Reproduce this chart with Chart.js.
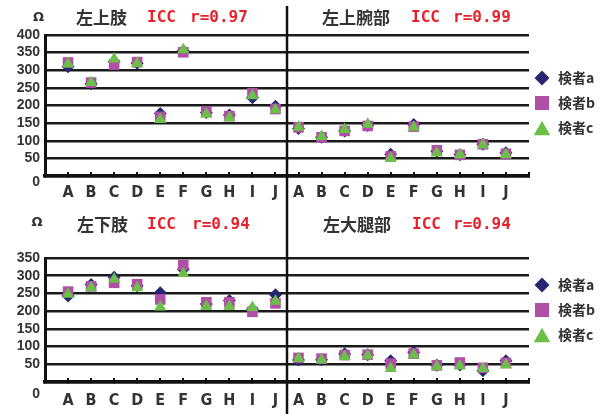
<!DOCTYPE html>
<html>
<head>
<meta charset="utf-8">
<script src="https://cdn.jsdelivr.net/npm/chart.js@4/dist/chart.umd.min.js"></script>
<style>
  html, body { margin: 0; padding: 0; background: #fff; }
  #wrap { position: relative; width: 608px; height: 414px; overflow: hidden; }
  canvas { position: absolute; left: 0; }
  #upper { top: 0; }
  #lower { top: 207px; }
</style>
</head>
<body>
<div id="wrap">
  <canvas id="upper" width="608" height="207"></canvas>
  <canvas id="lower" width="608" height="207"></canvas>
</div>
<script>
// Measurement points and examiners
const categories = ['A', 'B', 'C', 'D', 'E', 'F', 'G', 'H', 'I', 'J'];
const examiners = ['検者a', '検者b', '検者c'];
const examinerColors = ['#262671', '#b04ea8', '#6cc04a'];
const examinerShapes = ['rectRot', 'rect', 'triangle'];

// 左上肢 (Ω)
const upperLimbA = [310, 262, 324, 320, 177, 355, 180, 173, 222, 198];
const upperLimbB = [322, 265, 316, 323, 168, 351, 183, 170, 235, 190];
const upperLimbC = [318, 265, 332, 319, 160, 358, 175, 165, 228, 188];

// 左上腕部 (Ω)
const upperArmA = [135, 110, 128, 143, 62, 146, 70, 60, 90, 66];
const upperArmB = [138, 110, 128, 142, 56, 140, 73, 60, 90, 63];
const upperArmC = [138, 112, 132, 147, 50, 138, 65, 60, 88, 61];

// 左下肢 (Ω)
const lowerLimbA = [243, 275, 296, 272, 252, 318, 220, 230, 205, 246];
const lowerLimbB = [255, 270, 280, 276, 233, 330, 225, 225, 198, 222];
const lowerLimbC = [248, 266, 290, 266, 212, 306, 213, 213, 210, 228];

// 左大腿部 (Ω)
const thighA = [62, 63, 80, 77, 60, 84, 47, 48, 32, 60];
const thighB = [68, 66, 76, 77, 52, 80, 47, 55, 40, 54];
const thighC = [66, 62, 72, 74, 38, 76, 43, 45, 38, 48];

// Panel headings and ICC values
const panelNames = ['左上肢', '左上腕部', '左下肢', '左大腿部'];
const iccValues = ['0.97', '0.99', '0.94', '0.94'];

// Y axis tick settings per row
const upperYMax = 400;
const lowerYMax = 350;
const yStep = 50;
const unitLabel = 'Ω';

// Two panels share one x axis per row: a blank slot at each end,
// then A..J of the left panel followed by A..J of the right panel.
const rowLabels = [''].concat(categories, categories, ['']);
function rowData(left, right) {
  return [null].concat(left, right, [null]);
}

const plotRadius = [6.5, 7.5, 7];
const legendRadius = [7.5, 9.9, 9.6];

const panelDecor = {
  id: 'panelDecor',
  afterDraw(chart, args, opts) {
    const ctx = chart.ctx;
    const xs = chart.scales.x;
    ctx.save();

    // divider between the left and right panel
    const dx = xs.getPixelForValue(10.5);
    ctx.strokeStyle = '#111';
    ctx.lineWidth = 2.5;
    ctx.beginPath();
    ctx.moveTo(dx, opts.dividerTop);
    ctx.lineTo(dx, chart.height);
    ctx.stroke();

    // unit above the y axis
    ctx.fillStyle = '#333';
    ctx.textAlign = 'center';
    ctx.textBaseline = 'middle';
    ctx.font = 'bold 13px "DejaVu Sans"';
    ctx.fillText(unitLabel, opts.unitX, opts.unitY);

    // panel headings
    ctx.textAlign = 'left';
    opts.headings.forEach(h => {
      ctx.font = 'bold 17px "Noto Sans CJK JP"';
      ctx.fillStyle = '#333';
      ctx.fillText(h.name, h.x, opts.titleY);
      ctx.font = 'bold 16px "DejaVu Sans Mono"';
      ctx.fillStyle = '#e8202a';
      ctx.fillText('ICC', h.iccX, opts.titleY);
      ctx.fillText('r=' + h.r, h.rX, opts.titleY);
    });

    // legend at the right
    chart.data.datasets.forEach((ds, i) => {
      const ly = opts.legendY + i * opts.legendGap;
      ctx.fillStyle = ds.backgroundColor;
      const r = legendRadius[i];
      const py = ds.pointStyle === 'triangle' ? ly + r / 4 : ly;
      Chart.helpers.drawPoint(ctx, { pointStyle: ds.pointStyle, radius: r, borderWidth: 0, rotation: 0 }, opts.legendX, py);
      ctx.fillStyle = '#333';
      ctx.font = 'bold 14px "Noto Sans CJK JP"';
      ctx.textBaseline = 'middle';
      ctx.fillText(ds.label, opts.legendTextX, ly);
    });
    ctx.restore();
  }
};

function makeRow(canvasId, series, yMax, layout) {
  const datasets = series.map((data, i) => ({
    label: examiners[i],
    data: data,
    showLine: false,
    pointStyle: examinerShapes[i],
    pointRadius: plotRadius[i],
    pointHoverRadius: plotRadius[i],
    pointBorderWidth: 0,
    backgroundColor: examinerColors[i],
    borderColor: examinerColors[i],
    order: 2 - i,
    clip: false
  }));

  return new Chart(document.getElementById(canvasId), {
    type: 'line',
    data: { labels: rowLabels, datasets: datasets },
    options: {
      responsive: false,
      animation: false,
      events: [],
      layout: { padding: { top: layout.top, left: 0, right: 79, bottom: 0 } },
      plugins: {
        legend: { display: false },
        tooltip: { enabled: false },
        panelDecor: layout.decor
      },
      scales: {
        x: {
          type: 'category',
          offset: false,
          afterFit(s) { s.height = layout.xHeight; },
          grid: {
            display: true,
            drawOnChartArea: false,
            drawTicks: true,
            tickLength: -4,
            color: '#111',
            lineWidth: 2
          },
          border: { display: true, color: '#111', width: 3.5 },
          ticks: {
            autoSkip: false,
            maxRotation: 0,
            padding: layout.xPad,
            color: '#333',
            font: { family: "'Liberation Sans Narrow', 'DejaVu Sans Condensed', 'Liberation Sans'", weight: 'bold', size: 16 }
          }
        },
        y: {
          min: 0,
          max: yMax,
          afterFit(s) { s.width = 45; },
          grid: { color: '#1a1a1a', lineWidth: 2.5, drawTicks: false },
          border: { display: true, color: '#111', width: 3 },
          ticks: {
            stepSize: yStep,
            autoSkip: false,
            padding: 5,
            color: '#333',
            font: { family: "'Liberation Sans', Arial", weight: 'bold', size: 14, lineHeight: layout.zeroShift },
            callback: v => (v === 0 ? ['', '0'] : String(v))
          }
        }
      }
    },
    plugins: [panelDecor]
  });
}

makeRow('upper',
  [rowData(upperLimbA, upperArmA), rowData(upperLimbB, upperArmB), rowData(upperLimbC, upperArmC)],
  upperYMax,
  {
    top: 35, xHeight: 31, xPad: 11, zeroShift: '12px',
    decor: {
      dividerTop: 6, unitX: 38.5, unitY: 18, titleY: 18,
      headings: [
        { name: panelNames[0], x: 76, iccX: 147, rX: 190, r: iccValues[0] },
        { name: panelNames[1], x: 322, iccX: 411, rX: 453, r: iccValues[1] }
      ],
      legendX: 542, legendTextX: 558, legendY: 78, legendGap: 25
    }
  });

makeRow('lower',
  [rowData(lowerLimbA, thighA), rowData(lowerLimbB, thighB), rowData(lowerLimbC, thighC)],
  lowerYMax,
  {
    top: 51, xHeight: 32, xPad: 13, zeroShift: '24px',
    decor: {
      dividerTop: 0, unitX: 37, unitY: 16, titleY: 17.5,
      headings: [
        { name: panelNames[2], x: 77, iccX: 147, rX: 192, r: iccValues[2] },
        { name: panelNames[3], x: 323, iccX: 412, rX: 453, r: iccValues[3] }
      ],
      legendX: 542, legendTextX: 558, legendY: 78, legendGap: 25
    }
  });
</script>
</body>
</html>
